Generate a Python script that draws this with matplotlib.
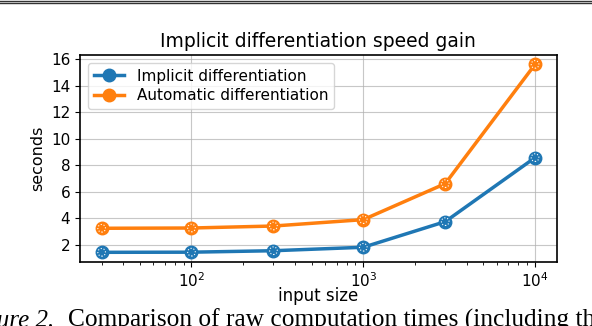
import matplotlib
matplotlib.use("Agg")
import matplotlib.pyplot as plt
from matplotlib.lines import Line2D

input_size = [30, 100, 300, 1000, 3000, 10000]
implicit = [1.45, 1.46, 1.57, 1.83, 3.76, 8.58]
automatic = [3.26, 3.28, 3.43, 3.91, 6.62, 15.6]
labels = ["Implicit differentiation", "Automatic differentiation"]
colors = ["#1f77b4", "#ff7f0e"]

fig = plt.figure(figsize=(5.92, 3.26), dpi=100)
ax = fig.add_axes([0.1351, 0.1972, 0.8053, 0.6341])

for ys, lab, c in zip([implicit, automatic], labels, colors):
    ax.plot(input_size, ys, color=c, lw=2.5, marker="o", ms=9, mec=c, mfc=c, label=lab, zorder=3)
    ax.scatter(input_size, ys, s=30, facecolors="none", edgecolors="white",
               linewidths=0.8, linestyles=":", zorder=4)

ax.set_xscale("log")
ax.set_yticks([2, 4, 6, 8, 10, 12, 14, 16])
ax.grid(True, which="major", color="#b0b0b0", lw=0.8, alpha=0.7)
ax.tick_params(labelsize=11)
for s in ax.spines.values():
    s.set_linewidth(1.2)
ax.set_title("Implicit differentiation speed gain", fontsize=13.5, pad=6)
ax.set_xlabel("input size", fontsize=12, labelpad=-2.5)
ax.set_ylabel("seconds", fontsize=11.5, labelpad=4)
ax.legend(loc="upper left", fontsize=11, handlelength=2.0, borderpad=0.4,
          labelspacing=0.3, framealpha=0.8)

# page border lines at top
fig.add_artist(Line2D([0, 1], [1 - 0.8/326, 1 - 0.8/326], color="#333333", lw=1.0, transform=fig.transFigure))
fig.add_artist(Line2D([0, 1], [1 - 3.2/326, 1 - 3.2/326], color="#333333", lw=1.0, transform=fig.transFigure))

# caption (cut off at the page edge, as in the reference)
fig.text(54/592, -1/326, "Figure 2.", family="Liberation Serif", style="italic",
         fontsize=18, ha="right", va="baseline")
fig.text(68/592, -1/326, "Comparison of raw computation times (including the",
         family="Liberation Serif", fontsize=18.3, ha="left", va="baseline")

fig.savefig("out.png", dpi=100)
